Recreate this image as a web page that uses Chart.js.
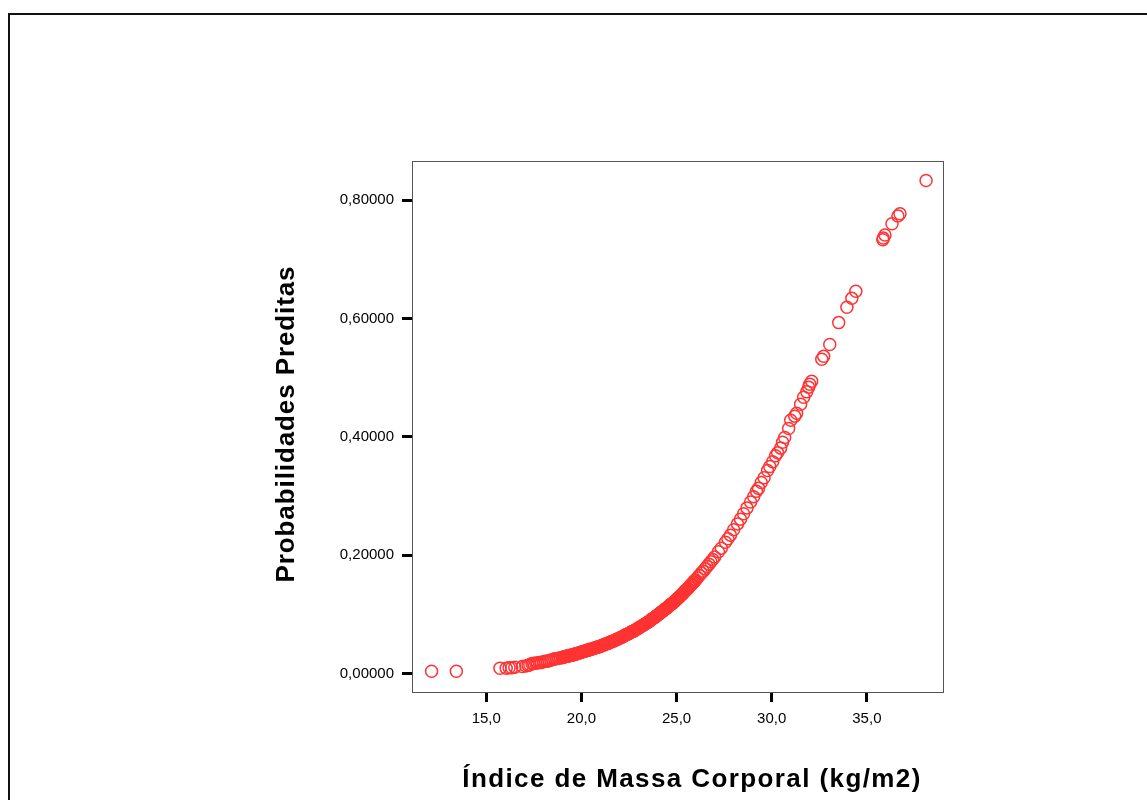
<!DOCTYPE html>
<html lang="pt">
<head>
<meta charset="utf-8">
<title>Probabilidades Preditas x IMC</title>
<script src="https://cdn.jsdelivr.net/npm/chart.js@4.4.1/dist/chart.umd.min.js"></script>
<style>
  html, body { margin: 0; padding: 0; background: #fff; overflow: hidden; }
  #wrap { position: relative; width: 1147px; height: 800px; }
  #chart { position: absolute; left: 0; top: 0; }
  #frame {
    position: absolute; left: 8px; top: 13px; width: 1300px; height: 1000px;
    border: 2px solid #111; pointer-events: none;
  }
</style>
</head>
<body>
<div id="wrap">
  <canvas id="chart" width="1147" height="800"></canvas>
  <div id="frame"></div>
</div>
<script>
// Scatter: predicted probabilities vs. body mass index (SPSS style).

const RED = '#ff3333';
const FONT = "Arial, 'Liberation Sans', Helvetica, sans-serif";

const X_TITLE = 'Índice de Massa Corporal (kg/m2)';
const Y_TITLE = 'Probabilidades Preditas';

const X_TICKS = [15, 20, 25, 30, 35];
const Y_TICKS = [0, 0.2, 0.4, 0.6, 0.8];

// --- Data -------------------------------------------------------------------

const bmi = [
  12.13, 13.43, 15.72, 16.05, 16.20, 16.34, 16.50, 16.90, 17.08, 17.20, 17.29,
  17.4, 17.5, 17.6, 17.7, 17.8, 17.9, 18.0, 18.1, 18.2, 18.3, 18.4, 18.5, 18.6,
  18.7, 18.8, 18.9, 19.0, 19.1, 19.2, 19.3, 19.4, 19.5, 19.6, 19.7, 19.8, 19.9,
  20.0, 20.1, 20.2, 20.3, 20.4, 20.5, 20.6, 20.7, 20.8, 20.9, 21.0, 21.1, 21.2,
  21.3, 21.4, 21.5, 21.6, 21.7, 21.8, 21.9, 22.0, 22.1, 22.2, 22.3, 22.4, 22.5,
  22.6, 22.7, 22.8, 22.9, 23.0, 23.1, 23.2, 23.3, 23.4, 23.5, 23.6, 23.7, 23.8,
  23.9, 24.0, 24.1, 24.2, 24.3, 24.4, 24.5, 24.6, 24.7, 24.8, 24.9, 25.0, 25.1,
  25.2, 25.3, 25.4, 25.5, 25.6, 25.7, 25.8, 25.9, 26.0, 26.1, 26.2, 26.3, 26.4,
  26.5, 26.6, 26.7, 26.8, 26.9, 27.0,
  27.20, 27.35, 27.57, 27.70, 27.83, 28.00, 28.20, 28.36, 28.52, 28.70, 28.89,
  29.05, 29.20, 29.31, 29.45, 29.60, 29.78, 29.90, 30.05, 30.20, 30.31, 30.47,
  30.57, 30.68, 30.89, 31.00, 31.21, 31.31, 31.52, 31.68, 31.84, 31.94, 32.00,
  32.10, 32.63, 32.73, 33.05, 33.52, 33.95, 34.21, 34.42, 35.84, 35.86, 35.95,
  36.32, 36.63, 36.74, 38.11,
  19.05, 19.15, 19.25, 19.35, 19.45, 19.55, 19.65, 19.75, 19.85, 19.95,
  20.05, 20.15, 20.25, 20.35, 20.45, 20.55, 20.65, 20.75, 20.85, 20.95,
  21.05, 21.15, 21.25, 21.35, 21.45, 21.55, 21.65, 21.75, 21.85, 21.95,
  22.05, 22.15, 22.25, 22.35, 22.45, 22.55, 22.65, 22.75, 22.85, 22.95,
  23.05, 23.15, 23.25, 23.35, 23.45, 23.55, 23.65, 23.75, 23.85, 23.95,
  24.05, 24.15, 24.25, 24.35, 24.45, 24.55, 24.65, 24.75, 24.85, 24.95,
  25.05, 25.15, 25.25, 25.35, 25.45, 25.55, 25.65, 25.75, 25.85, 25.95
];

const prob = [
  0.004, 0.004, 0.009, 0.009, 0.010, 0.010, 0.011, 0.012, 0.013, 0.014, 0.015,
  0.017, 0.017, 0.018, 0.018, 0.019, 0.019, 0.020, 0.021, 0.021, 0.022, 0.023, 0.024, 0.025,
  0.025, 0.026, 0.027, 0.027, 0.028, 0.029, 0.030, 0.031, 0.031, 0.032, 0.033, 0.034, 0.035,
  0.036, 0.037, 0.038, 0.039, 0.040, 0.041, 0.042, 0.043, 0.044, 0.045, 0.046, 0.048, 0.049,
  0.050, 0.051, 0.053, 0.054, 0.055, 0.057, 0.058, 0.060, 0.061, 0.063, 0.065, 0.066, 0.068,
  0.070, 0.071, 0.073, 0.075, 0.077, 0.079, 0.081, 0.083, 0.085, 0.087, 0.089, 0.092, 0.094,
  0.096, 0.099, 0.101, 0.104, 0.106, 0.109, 0.111, 0.114, 0.117, 0.119, 0.122, 0.125, 0.128,
  0.131, 0.134, 0.138, 0.141, 0.144, 0.148, 0.151, 0.155, 0.158, 0.162, 0.166, 0.170, 0.173,
  0.177, 0.181, 0.185, 0.189, 0.193, 0.197,
  0.206, 0.212, 0.222, 0.228, 0.234, 0.243, 0.253, 0.261, 0.270, 0.280, 0.290,
  0.299, 0.308, 0.313, 0.323, 0.331, 0.343, 0.350, 0.358, 0.368, 0.373, 0.381,
  0.391, 0.399, 0.414, 0.428, 0.435, 0.440, 0.455, 0.467, 0.476, 0.484, 0.489,
  0.494, 0.531, 0.536, 0.556, 0.593, 0.619, 0.634, 0.646, 0.733, 0.736, 0.741,
  0.760, 0.773, 0.777, 0.833,
  0.028, 0.029, 0.030, 0.030, 0.031, 0.032, 0.033, 0.034, 0.035, 0.036,
  0.037, 0.038, 0.039, 0.040, 0.041, 0.042, 0.043, 0.044, 0.045, 0.046,
  0.047, 0.048, 0.050, 0.051, 0.052, 0.054, 0.055, 0.056, 0.058, 0.059,
  0.061, 0.062, 0.064, 0.066, 0.067, 0.069, 0.071, 0.072, 0.074, 0.076,
  0.078, 0.080, 0.082, 0.084, 0.086, 0.088, 0.091, 0.093, 0.095, 0.098,
  0.100, 0.103, 0.105, 0.108, 0.110, 0.113, 0.116, 0.118, 0.121, 0.124,
  0.127, 0.130, 0.133, 0.136, 0.140, 0.143, 0.146, 0.150, 0.153, 0.157
];

const points = bmi.map((x, i) => ({ x, y: prob[i] }));

// --- Helpers ----------------------------------------------------------------

function fmt(v, decimals) {
  return v.toFixed(decimals).replace('.', ',');
}

// plot frame + axis titles with letter spacing, like the SPSS output
const framePlugin = {
  id: 'frameAndTitles',
  afterDraw(chart) {
    const { ctx, chartArea: a } = chart;
    ctx.save();
    ctx.strokeStyle = '#555';
    ctx.lineWidth = 1;
    ctx.strokeRect(Math.round(a.left) + 0.5, Math.round(a.top) + 0.5,
      Math.round(a.right - a.left), Math.round(a.bottom - a.top));

    ctx.fillStyle = '#000';
    ctx.font = `bold 26px ${FONT}`;
    ctx.textAlign = 'center';
    ctx.textBaseline = 'middle';

    ctx.letterSpacing = '1.4px';
    ctx.fillText(X_TITLE, 692, 780);

    ctx.letterSpacing = '0.9px';
    ctx.translate(287, 424);
    ctx.rotate(-Math.PI / 2);
    ctx.fillText(Y_TITLE, 0, 0);
    ctx.restore();
  },
};

const tickGrid = {
  display: true,
  drawOnChartArea: false,
  drawTicks: true,
  tickLength: 10,
  tickWidth: 3,
  tickColor: '#000',
};

// --- Chart ------------------------------------------------------------------

new Chart(document.getElementById('chart'), {
  type: 'scatter',
  data: {
    datasets: [{
      data: points,
      pointStyle: 'circle',
      pointRadius: 6,
      pointBorderWidth: 1.5,
      borderColor: RED,
      backgroundColor: 'rgba(0,0,0,0)',
    }],
  },
  options: {
    responsive: false,
    animation: false,
    devicePixelRatio: 1,
    layout: { padding: { left: 0, top: 161, right: 204, bottom: 0 } },
    plugins: {
      legend: { display: false },
      tooltip: { enabled: false },
    },
    scales: {
      x: {
        type: 'linear',
        min: 11.1,
        max: 39.0,
        afterFit: s => { s.height = 108; },
        afterBuildTicks: s => { s.ticks = X_TICKS.map(value => ({ value })); },
        grid: tickGrid,
        border: { display: false },
        ticks: {
          padding: 8,
          color: '#000',
          font: { family: FONT, size: 15 },
          callback: v => fmt(v, 1),
        },
      },
      y: {
        type: 'linear',
        min: -0.031,
        max: 0.866,
        afterFit: s => { s.width = 412; },
        afterBuildTicks: s => { s.ticks = Y_TICKS.map(value => ({ value })); },
        grid: tickGrid,
        border: { display: false },
        ticks: {
          padding: 8,
          color: '#000',
          font: { family: FONT, size: 15 },
          callback: v => fmt(v, 5),
        },
      },
    },
  },
  plugins: [framePlugin],
});
</script>
</body>
</html>
